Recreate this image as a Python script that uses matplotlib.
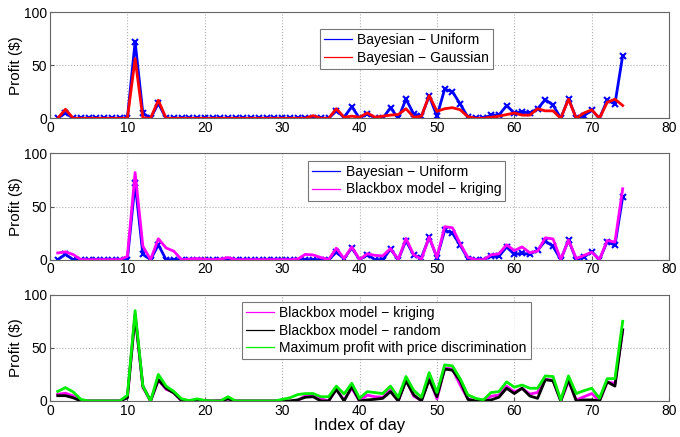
import numpy as np
import matplotlib.pyplot as plt
from matplotlib.lines import Line2D

plt.rcParams['font.family'] = ['Liberation Sans', 'DejaVu Sans']

days = np.arange(1, 75)

bayes_uniform = [0, 5, 0, 0, 0, 0, 0, 0, 0, 0,
                 72, 5, 0, 14, 0, 0, 0, 0, 0, 0,
                 0, 0, 0, 0, 0, 0, 0, 0, 0, 0,
                 0, 0, 0, 0, 0, 0, 7, 1, 11, 0,
                 4.5, 0, 0, 10, 0, 18, 4, 2, 21, 2,
                 27.5, 25, 13.5, 1, 0, 0, 3, 3, 12, 5,
                 6, 5, 9, 17.5, 12.5, 0, 18.5, 0, 2.5, 7.5,
                 0, 17, 13.5, 59]
bayes_gauss = [0, 8.5, 0, 0, 0, 0, 0, 0, 0, 0,
               56, 0.5, 0, 17, 0, 0, 0, 0, 0, 0,
               0, 0, 0, 0, 0, 0, 0, 0, 0, 0,
               0, 0, 0, 2.5, 0, 0, 9, 1, 2, 1,
               5, 1, 2, 3, 3.5, 9, 1, 2, 21.5, 6.5,
               9, 10, 8, 1.5, 0, 0, 1, 2, 3.5, 5,
               3, 3, 9, 7, 7, 0, 18, 0, 5, 8,
               0, 15, 18, 12]
kriging = [6.3, 7.3, 4.8, 0, 0, 0, 0, 0, 0, 3,
           82, 12.7, 0, 19.7, 11, 8, 0, 0.5, 1, 0.5,
           0, 0.5, 2, 0, 0, 0, 0, 0, 0, 0,
           0, 0.5, 5, 4.4, 2, 0, 10.8, 1, 12, 0,
           5.5, 4, 3.5, 10.5, 0, 20, 4.5, 0.5, 21.5, 2,
           31, 30, 15, 2, 0, 0, 4.5, 5.5, 14, 8.5,
           12, 6.5, 8, 20.5, 19.5, 0, 18.5, 1, 4, 7,
           0, 18, 16.5, 66.7]
random_bb = [5, 5, 3, 0, 0, 0, 0, 0, 0, 3,
             80, 14, 0, 20, 12, 7.5, 0.5, 0, 0.5, 0,
             0, 0, 2, 0, 0, 0, 0, 0, 0, 0,
             0, 1, 3.5, 4, 0, 0, 11, 0, 13.5, 0,
             1, 1.6, 2.5, 8.8, 0, 19, 5.7, 0, 20, 4,
             30, 29, 19, 1.5, 0, 0, 1, 3.5, 12, 7,
             12, 4.7, 2.5, 20, 19, 0, 20, 0, 1, 1,
             0, 18, 14, 67]
max_profit = [9, 12.6, 8.5, 1.5, 0, 0, 0, 0, 0, 5.4,
              85, 14, 0, 25, 14, 9, 2, 0.5, 2, 0.5,
              0, 0, 4, 0, 0, 0, 0, 0, 0, 1.5,
              3, 6, 7, 7, 4, 4, 14, 6.6, 16.7, 2.5,
              8.8, 7.9, 7, 14, 3.5, 23, 10, 3.5, 26.7, 8,
              34, 33, 21, 5.7, 2.5, 1, 8, 8.8, 18, 13,
              15, 12, 12, 23.6, 23, 1, 23.6, 7, 9.7, 12,
              2.5, 21, 21, 75]

fig, axes = plt.subplots(3, 1, figsize=(6.8, 4.37), dpi=100)
fig.subplots_adjust(left=0.0735, right=0.984, top=0.9725, bottom=0.0824, hspace=0.33)

panels = [
    [(bayes_uniform, 'blue', 'Bayesian \u2212 Uniform', True),
     (bayes_gauss, 'red', 'Bayesian \u2212 Gaussian', False)],
    [(bayes_uniform, 'blue', 'Bayesian \u2212 Uniform', True),
     (kriging, 'magenta', 'Blackbox model \u2212 kriging', False)],
    [(kriging, 'magenta', 'Blackbox model \u2212 kriging', False),
     (random_bb, 'black', 'Blackbox model \u2212 random', False),
     (max_profit, '#00ee00', 'Maximum profit with price discrimination', False)],
]
legend_anchor = [(0.436, 0.84), (0.417, 0.93), (0.31, 0.93)]

for ax, series, anchor in zip(axes, panels, legend_anchor):
    handles = []
    for vals, col, lab, mark in series:
        if mark:
            ax.plot(days, vals, color=col, lw=2, marker='x', ms=4, mew=1.5)
        else:
            ax.plot(days, vals, color=col, lw=2)
        handles.append(Line2D([], [], color=col, lw=0.9, label=lab))
    ax.set_xlim(0, 80)
    ax.set_ylim(0, 100)
    ax.set_xticks(range(0, 81, 10))
    ax.set_yticks([0, 50, 100])
    ax.grid(True, linestyle=':', color='#b0b0b0', lw=0.8)
    ax.tick_params(direction='in', labelsize=10, length=3, color='#555555', pad=2)
    for s in ax.spines.values():
        s.set_color('#666666')
        s.set_linewidth(0.8)
    ax.set_ylabel('Profit ($)', fontsize=11, labelpad=1)
    leg = ax.legend(handles=handles, loc='upper left', bbox_to_anchor=anchor,
                    fontsize=10, frameon=True, fancybox=False, edgecolor='#555555',
                    handlelength=2.0, borderpad=0.3, labelspacing=0.25,
                    handletextpad=0.4, borderaxespad=0)
    leg.get_frame().set_linewidth(0.8)

axes[2].set_xlabel('Index of day', fontsize=12, labelpad=0)

fig.savefig('out.png', dpi=100)
